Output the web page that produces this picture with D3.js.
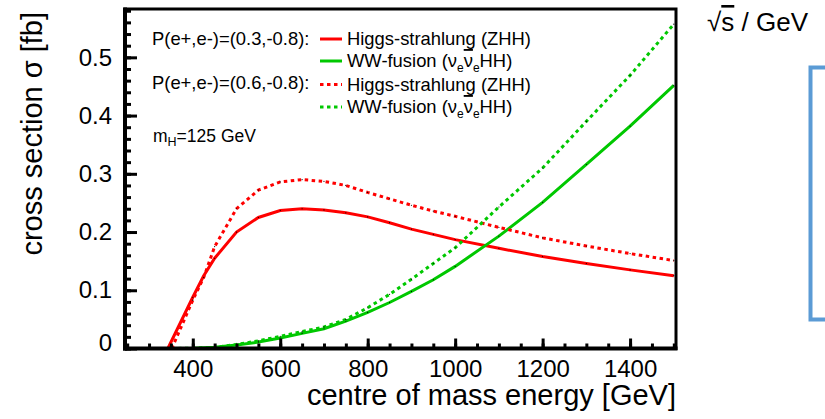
<!DOCTYPE html>
<html>
<head>
<meta charset="utf-8">
<script src="https://cdn.jsdelivr.net/npm/d3@7"></script>
<style>
  body { margin: 0; background: #fff; }
  text { font-family: "Liberation Sans", Arial, Helvetica, sans-serif; fill: #000; }
</style>
</head>
<body>
<svg id="chart" width="825" height="419"></svg>
<script>
// values (GeV, fb)
const energyZHH1 = [343, 400, 425, 450, 500, 550, 600, 650, 700, 750, 800, 850, 900, 950, 1000, 1100, 1200, 1300, 1400, 1500];
const zhhPol1    = [0, 0.088, 0.125, 0.155, 0.200, 0.225, 0.237, 0.240, 0.238, 0.233, 0.226, 0.216, 0.205, 0.196, 0.187, 0.172, 0.158, 0.146, 0.135, 0.125];
const energyZHH2 = [352, 400, 425, 450, 500, 550, 600, 650, 700, 750, 800, 850, 900, 950, 1000, 1100, 1200, 1300, 1400, 1500];
const zhhPol2    = [0, 0.083, 0.122, 0.175, 0.240, 0.272, 0.286, 0.290, 0.287, 0.280, 0.268, 0.257, 0.246, 0.236, 0.227, 0.208, 0.190, 0.176, 0.163, 0.151];
const energyWW   = [350, 400, 450, 500, 550, 600, 650, 700, 750, 800, 850, 900, 950, 1000, 1100, 1200, 1300, 1400, 1500];
const wwPol1     = [0, 0.0005, 0.002, 0.006, 0.011, 0.018, 0.026, 0.034, 0.047, 0.062, 0.079, 0.098, 0.118, 0.141, 0.193, 0.251, 0.316, 0.382, 0.452];
const wwPol2     = [0, 0.0005, 0.002, 0.007, 0.013, 0.021, 0.029, 0.037, 0.050, 0.070, 0.093, 0.119, 0.146, 0.173, 0.243, 0.310, 0.390, 0.469, 0.557];

const xMajorTicks = [400, 600, 800, 1000, 1200, 1400];
const yMajorTicks = [0, 0.1, 0.2, 0.3, 0.4, 0.5];

const polLabels = ["P(e+,e-)=(0.3,-0.8):", "P(e+,e-)=(0.6,-0.8):"];

var plotLeft = 125, plotRight = 676, plotTop = 9, plotBottom = 348.5;
var red = "#ff0000", green = "#00c800";

var svg = d3.select("#chart");

var x = d3.scaleLinear().domain([245, 1505]).range([plotLeft, plotRight]);
var y = d3.scaleLinear().domain([0, 0.583]).range([plotBottom, plotTop]);

svg.append("clipPath").attr("id", "clip")
  .append("rect").attr("x", plotLeft).attr("y", plotTop)
  .attr("width", plotRight - plotLeft).attr("height", plotBottom - plotTop);

var line = d3.line().x(d => x(d[0])).y(d => y(d[1]));

var series = [
  { xs: energyZHH1, ys: zhhPol1, color: red, dash: null },
  { xs: energyWW, ys: wwPol1, color: green, dash: null },
  { xs: energyZHH2, ys: zhhPol2, color: red, dash: "3.5,3.5" },
  { xs: energyWW, ys: wwPol2, color: green, dash: "3.5,3.5" }
];

var plot = svg.append("g").attr("clip-path", "url(#clip)");
series.forEach(s => {
  var pts = s.xs.map((e, i) => [e, s.ys[i]]);
  plot.append("path")
    .datum(pts)
    .attr("fill", "none")
    .attr("stroke", s.color)
    .attr("stroke-width", 3)
    .attr("stroke-dasharray", s.dash)
    .attr("d", line);
  // tiny black markers at the points
  plot.selectAll(null).data(pts).enter().append("circle")
    .attr("cx", d => x(d[0])).attr("cy", d => y(d[1]))
    .attr("r", 0.6).attr("fill", "#000");
});

// axes, ticks pointing inward
var xMinor = svg.append("g").attr("transform", "translate(0," + plotBottom + ")")
  .call(d3.axisBottom(x).tickValues(d3.range(250, 1501, 50)).tickSize(-5).tickFormat(""));
var xMajor = svg.append("g").attr("transform", "translate(0," + plotBottom + ")")
  .call(d3.axisBottom(x).tickValues(xMajorTicks).tickSize(-10).tickPadding(11).tickFormat(d3.format("d")));

var yMinor = svg.append("g").attr("transform", "translate(" + plotLeft + ",0)")
  .call(d3.axisLeft(y).tickValues(d3.range(0, 0.581, 0.02)).tickSize(-6).tickFormat(""));
var yMajor = svg.append("g").attr("transform", "translate(" + plotLeft + ",0)")
  .call(d3.axisLeft(y).tickValues(yMajorTicks).tickSize(-12).tickPadding(13)
    .tickFormat(d => d === 0 ? "0" : d3.format(".1f")(d)));

[xMinor, xMajor, yMinor, yMajor].forEach(g => {
  g.select(".domain").remove();
  g.selectAll(".tick line").attr("stroke", "#000").attr("stroke-width", 3);
  g.selectAll(".tick text").style("font-size", "24px").attr("fill", "#000")
    .style("font-family", "'Liberation Sans', Arial, Helvetica, sans-serif");
});
yMajor.selectAll(".tick text").filter(d => d === 0).attr("dy", "0.1em");

// frame
svg.append("rect")
  .attr("x", plotLeft).attr("y", plotTop)
  .attr("width", plotRight - plotLeft).attr("height", plotBottom - plotTop)
  .attr("fill", "none").attr("stroke", "#000").attr("stroke-width", 3);
svg.append("line").attr("x1", plotLeft).attr("x2", plotLeft).attr("y1", plotTop - 1.5).attr("y2", plotBottom + 2)
  .attr("stroke", "#000").attr("stroke-width", 4);
svg.append("line").attr("x1", plotLeft - 2).attr("x2", plotRight + 1.5).attr("y1", plotBottom).attr("y2", plotBottom)
  .attr("stroke", "#000").attr("stroke-width", 4);

// axis titles
svg.append("text")
  .attr("x", plotRight).attr("y", 405)
  .attr("text-anchor", "end")
  .style("font-size", "29px")
  .text("centre of mass energy [GeV]");

svg.append("text")
  .attr("transform", "translate(42,12) rotate(-90)")
  .attr("text-anchor", "end")
  .style("font-size", "29px")
  .text("cross section \u03c3 [fb]");

// legend
var legendX = 347, sampleX0 = 320, sampleX1 = 342;
var legendRows = [
  { color: red, dash: null, label: "zhh", yb: 45 },
  { color: green, dash: null, label: "ww", yb: 67 },
  { color: red, dash: "3.5,3.5", label: "zhh", yb: 90.5 },
  { color: green, dash: "3.5,3.5", label: "ww", yb: 113 }
];
svg.append("text").attr("x", 152).attr("y", 45).style("font-size", "18.4px").text(polLabels[0]);
svg.append("text").attr("x", 152).attr("y", 89).style("font-size", "18.4px").text(polLabels[1]);

legendRows.forEach(r => {
  svg.append("line")
    .attr("x1", sampleX0).attr("x2", sampleX1)
    .attr("y1", r.yb - 6).attr("y2", r.yb - 6)
    .attr("stroke", r.color).attr("stroke-width", 3)
    .attr("stroke-dasharray", r.dash);
  var t = svg.append("text").attr("x", legendX).attr("y", r.yb).style("font-size", "18.4px");
  if (r.label === "zhh") {
    t.text("Higgs-strahlung (ZHH)");
  } else {
    t.append("tspan").text("WW-fusion (\u03bd");
    t.append("tspan").attr("dy", 5).style("font-size", "12px").text("e");
    t.append("tspan").attr("dy", -5).style("text-decoration", "overline").text("\u03bd");
    t.append("tspan").attr("dy", 5).style("font-size", "12px").text("e");
    t.append("tspan").attr("dy", -5).text("HH)");
  }
});

// m_H label
var mh = svg.append("text").attr("x", 153).attr("y", 141.5).style("font-size", "17.5px");
mh.append("tspan").text("m");
mh.append("tspan").attr("dy", 4).style("font-size", "12.5px").text("H");
mh.append("tspan").attr("dy", -4).text("=125 GeV");

// side annotation
var sq = svg.append("text").attr("x", 707).attr("y", 31).style("font-size", "26px");
sq.append("tspan").text("\u221a");
sq.append("tspan").style("text-decoration", "overline").text("s");
sq.append("tspan").text(" / GeV");

svg.append("rect")
  .attr("x", 810.5).attr("y", 67.5).attr("width", 40).attr("height", 252)
  .attr("fill", "none").attr("stroke", "#5b9bd5").attr("stroke-width", 4);
</script>
</body>
</html>
